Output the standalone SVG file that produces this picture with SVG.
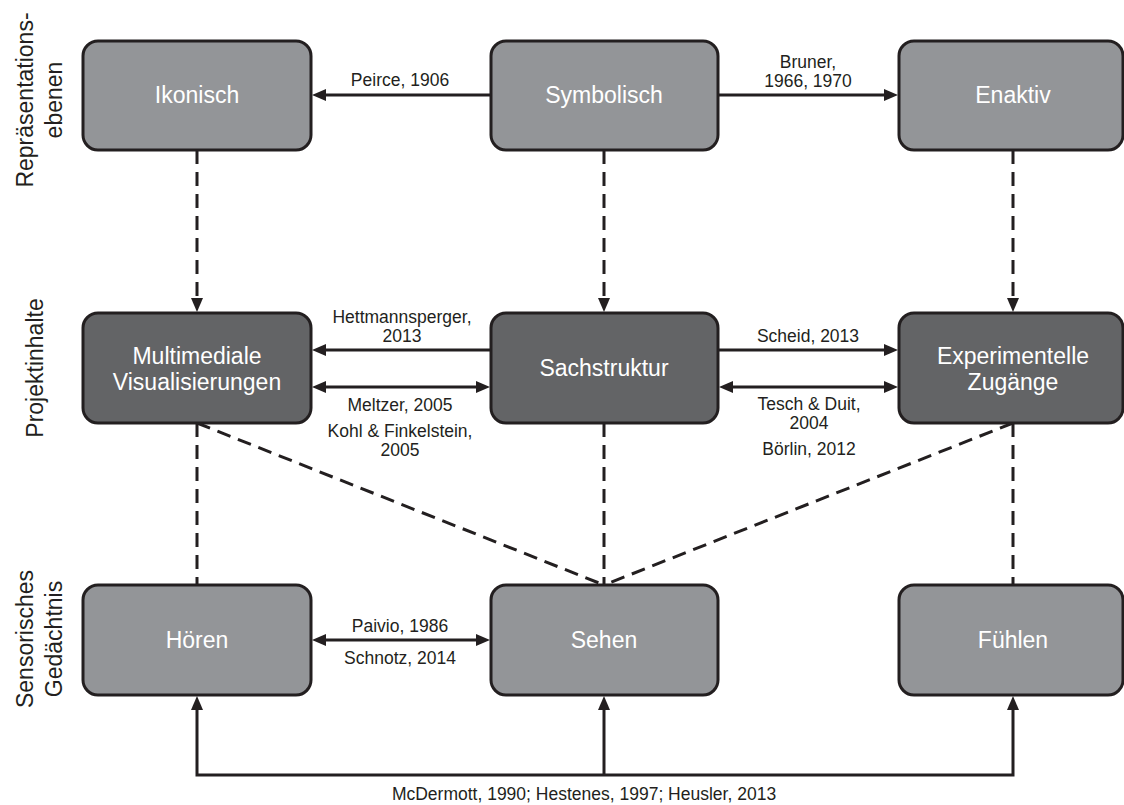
<svg xmlns="http://www.w3.org/2000/svg" width="1124" height="805" viewBox="0 0 1124 805">
<style>
.box{stroke:#231f20;stroke-width:3}
.light{fill:#939598}
.dark{fill:#636466}
.nt{font-family:"Liberation Sans",Arial,sans-serif;font-size:23px;fill:#ffffff;text-anchor:middle}
.lb{font-family:"Liberation Sans",Arial,sans-serif;font-size:17.5px;fill:#231f20;text-anchor:middle}
.side{font-family:"Liberation Sans",Arial,sans-serif;font-size:23px;fill:#231f20;text-anchor:middle}
.ln{fill:none;stroke:#231f20;stroke-width:3}
.da{stroke-dasharray:14 8}
</style>
<defs>
<marker id="ah" markerUnits="userSpaceOnUse" markerWidth="14" markerHeight="12" refX="4" refY="6" orient="auto-start-reverse">
<path d="M0,0 L14,6 L0,12 Z" fill="#231f20"/>
</marker>
</defs>
<rect width="1124" height="805" fill="#ffffff"/>

<g id="side-labels">
<text class="side" transform="translate(33,100) rotate(-90)">Repräsentations-</text>
<text class="side" transform="translate(62,100) rotate(-90)">ebenen</text>
<text class="side" transform="translate(43,368) rotate(-90)">Projektinhalte</text>
<text class="side" transform="translate(33,639) rotate(-90)">Sensorisches</text>
<text class="side" transform="translate(62,639) rotate(-90)">Gedächtnis</text>
</g>

<g id="connectors">
<line class="ln" x1="491" y1="95" x2="322" y2="95" marker-end="url(#ah)"/>
<line class="ln" x1="718" y1="95" x2="888" y2="95" marker-end="url(#ah)"/>
<line class="ln da" x1="197" y1="150" x2="197" y2="302" marker-end="url(#ah)"/>
<line class="ln da" x1="604" y1="150" x2="604" y2="302" marker-end="url(#ah)"/>
<line class="ln da" x1="1013" y1="150" x2="1013" y2="302" marker-end="url(#ah)"/>
<line class="ln" x1="491" y1="350" x2="322" y2="350" marker-end="url(#ah)"/>
<line class="ln" x1="322" y1="387" x2="480" y2="387" marker-start="url(#ah)" marker-end="url(#ah)"/>
<line class="ln" x1="718" y1="350" x2="888" y2="350" marker-end="url(#ah)"/>
<line class="ln" x1="729" y1="387" x2="888" y2="387" marker-start="url(#ah)" marker-end="url(#ah)"/>
<line class="ln da" x1="197" y1="423" x2="197" y2="585"/>
<line class="ln da" x1="604" y1="423" x2="604" y2="585"/>
<line class="ln da" x1="1013" y1="423" x2="1013" y2="585"/>
<line class="ln da" x1="197" y1="423" x2="604" y2="585"/>
<line class="ln da" x1="1013" y1="423" x2="604" y2="585"/>
<line class="ln" x1="322" y1="640" x2="480" y2="640" marker-start="url(#ah)" marker-end="url(#ah)"/>
<path class="ln" d="M197,706 V775 H1013 V706" marker-start="url(#ah)" marker-end="url(#ah)"/>
<line class="ln" x1="604" y1="775" x2="604" y2="706" marker-end="url(#ah)"/>
</g>

<g id="connector-labels">
<text class="lb" x="400" y="86">Peirce, 1906</text>
<text class="lb" x="808" y="68">Bruner,</text>
<text class="lb" x="808" y="87">1966, 1970</text>
<text class="lb" x="402" y="323">Hettmannsperger,</text>
<text class="lb" x="402" y="342">2013</text>
<text class="lb" x="400" y="411">Meltzer, 2005</text>
<text class="lb" x="400" y="437">Kohl &amp; Finkelstein,</text>
<text class="lb" x="400" y="456">2005</text>
<text class="lb" x="808" y="342">Scheid, 2013</text>
<text class="lb" x="809" y="410">Tesch &amp; Duit,</text>
<text class="lb" x="809" y="429">2004</text>
<text class="lb" x="809" y="455">Börlin, 2012</text>
<text class="lb" x="400" y="632">Paivio, 1986</text>
<text class="lb" x="400" y="664">Schnotz, 2014</text>
<text class="lb" x="584" y="800">McDermott, 1990; Hestenes, 1997; Heusler, 2013</text>
</g>

<g id="ikonisch"><rect class="box light" x="83" y="41" width="228" height="109" rx="15"/><text class="nt" x="197" y="103">Ikonisch</text></g>
<g id="symbolisch"><rect class="box light" x="491" y="41" width="227" height="109" rx="15"/><text class="nt" x="604" y="103">Symbolisch</text></g>
<g id="enaktiv"><rect class="box light" x="899" y="41" width="224" height="109" rx="15"/><text class="nt" x="1013" y="103">Enaktiv</text></g>

<g id="multimediale"><rect class="box dark" x="83" y="313" width="228" height="110" rx="15"/><text class="nt" x="197" y="364">Multimediale</text><text class="nt" x="197" y="390">Visualisierungen</text></g>
<g id="sachstruktur"><rect class="box dark" x="491" y="313" width="227" height="110" rx="15"/><text class="nt" x="604" y="376">Sachstruktur</text></g>
<g id="experimentelle"><rect class="box dark" x="899" y="313" width="224" height="110" rx="15"/><text class="nt" x="1013" y="364">Experimentelle</text><text class="nt" x="1013" y="390">Zugänge</text></g>

<g id="hoeren"><rect class="box light" x="83" y="585" width="228" height="110" rx="15"/><text class="nt" x="197" y="648">Hören</text></g>
<g id="sehen"><rect class="box light" x="491" y="585" width="227" height="110" rx="15"/><text class="nt" x="604" y="648">Sehen</text></g>
<g id="fuehlen"><rect class="box light" x="899" y="585" width="224" height="110" rx="15"/><text class="nt" x="1013" y="648">Fühlen</text></g>
</svg>
